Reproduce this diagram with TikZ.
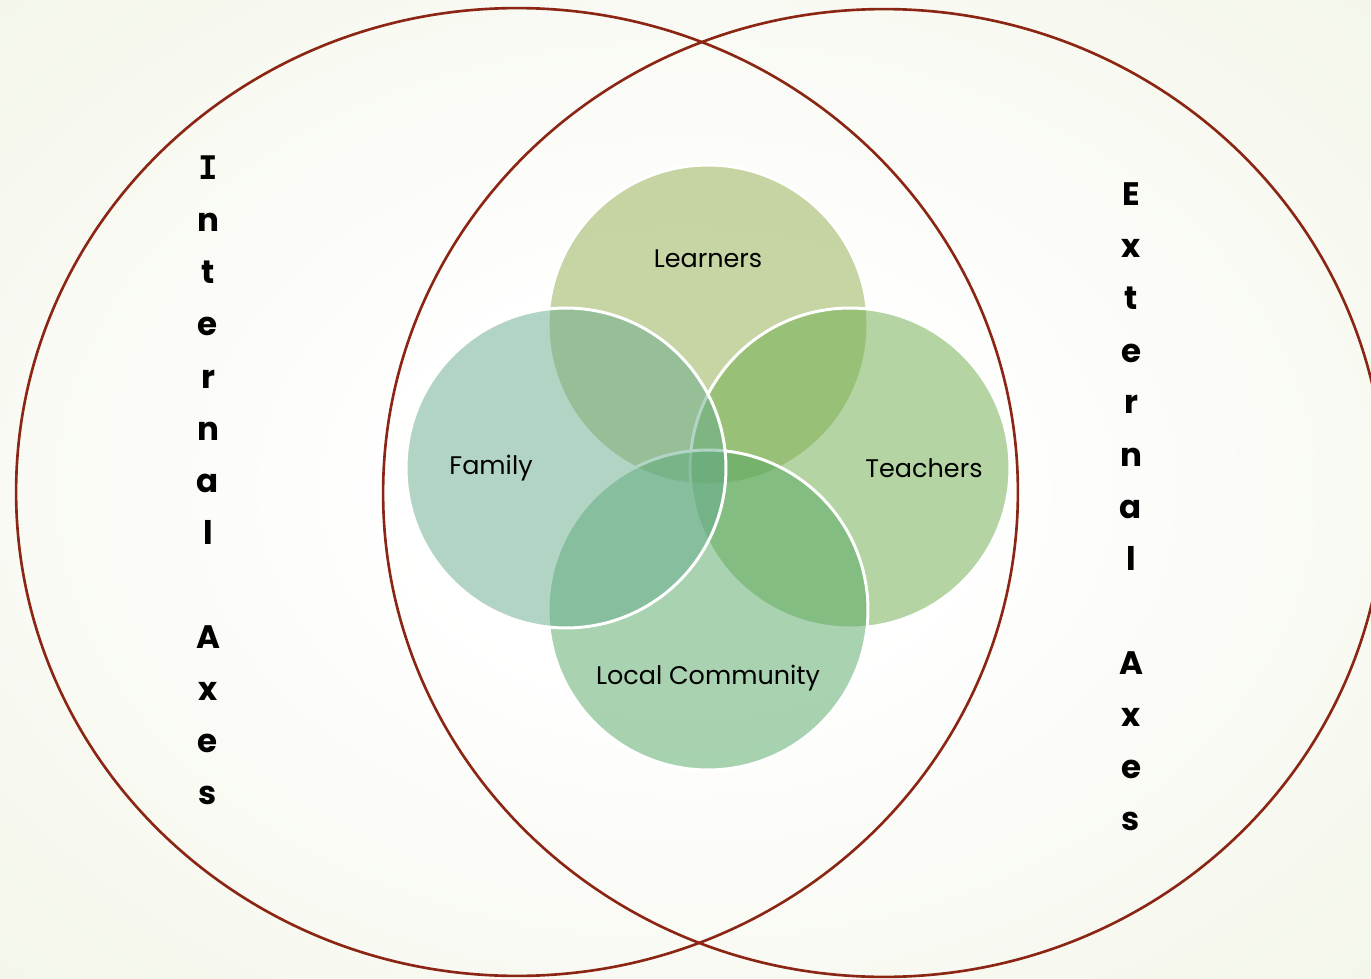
\documentclass[tikz,border=0pt]{standalone}
\usepackage{fontspec}
\setmainfont{Poppins}
\newfontfamily\barfont{DejaVu Sans Mono}
\usetikzlibrary{positioning, shapes.geometric}

\definecolor{axisred}{RGB}{140,38,20}
\definecolor{bgout}{RGB}{229,235,207}
\definecolor{learnc}{RGB}{145,171,75}
\definecolor{teachc}{RGB}{107,173,73}
\definecolor{commc}{RGB}{83,167,99}
\definecolor{famc}{RGB}{103,171,141}
\pgfdeclareradialshading{bgshade}{\pgfpoint{0bp}{0bp}}{color(0bp)=(white); color(10bp)=(white); color(68bp)=(bgout)}

\begin{document}
\begin{tikzpicture}
[
    x=0.02cm, y=-0.02cm,
    % The two axes are ellipses named int-axes / ext-axes
    % The four groups are circles named after the group
]

%=================================== Start ===================================
\tikzstyle{axis} = [ellipse, draw=axisred, line width=1.5pt, inner sep=0pt,
                    minimum width=20.04cm, minimum height=19.36cm]
\tikzstyle{grp}  = [circle, draw=white, line width=1.7pt, fill opacity=0.5,
                    minimum size=6.4cm, inner sep=0pt]
\tikzstyle{lbl}  = [font=\fontsize{14.5}{17}\selectfont]
\tikzstyle{ltr}  = [anchor=base, inner sep=0pt, font=\fontsize{18.5}{22}\selectfont\bfseries]

\useasboundingbox (0,0) rectangle (1371,979);
\clip (0,0) rectangle (1371,979);
\shade[shading=bgshade] (0,0) rectangle (1371,979);

{
    % Draw the axes
    \node[axis] (int-axes) at (517,492) {};
    \node[axis] (ext-axes) at (884,493) {};

    % Draw the groups (family last, it lies on top)
    \node[grp, fill=learnc] (learners)  at (708,325) {};
    \node[grp, fill=teachc] (teachers)  at (850,468) {};
    \node[grp, fill=commc]  (community) at (708,610) {};
    \node[grp, fill=famc]   (family)    at (566,468) {};

    % Group labels
    \node[lbl] (learners-l)  at ([yshift=1.32cm]learners.center)  {Learners};
    \node[lbl] (teachers-l)  at ([xshift=1.48cm]teachers.center)  {Teachers};
    \node[lbl] (community-l) at ([yshift=-1.36cm]community.center) {Local Community};
    \node[lbl] (family-l)    at ([xshift=-1.5cm]family.center)    {Family};

    % Axis titles, one letter a line
    \foreach \ch [count=\i from 0] in {{\barfont I},n,t,e,r,n,a,l,{},A,x,e,s}
        \node[ltr] (int-\i) at (208,180+52*\i) {\ch};
    \foreach \ch [count=\i from 0] in {E,x,t,e,r,n,a,l,{},A,x,e,s}
        \node[ltr] (ext-\i) at (1131,206+52*\i) {\ch};
}
%==================================== END ====================================

\end{tikzpicture}
\end{document}
